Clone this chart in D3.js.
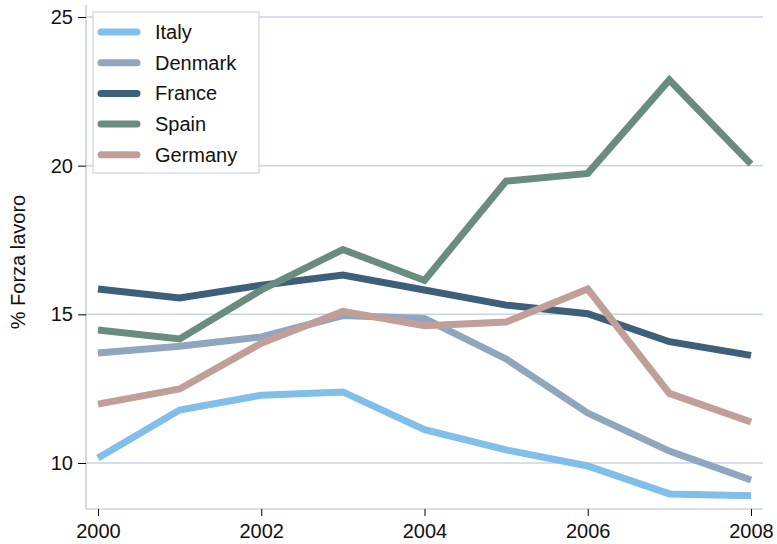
<!DOCTYPE html>
<html>
<head>
<meta charset="utf-8">
<script src="https://cdn.jsdelivr.net/npm/d3@7"></script>
<style>
  body { margin: 0; background: #fff; }
  text { font-family: "Liberation Sans", Arial, sans-serif; fill: #111; }
</style>
</head>
<body>
<div id="chart"></div>
<script>
const years = [2000, 2001, 2002, 2003, 2004, 2005, 2006, 2007, 2008];
const italy   = [10.17, 11.78, 12.28, 12.39, 11.12, 10.44, 9.9, 8.96, 8.9];
const denmark = [13.7, 13.93, 14.24, 14.96, 14.86, 13.5, 11.68, 10.4, 9.43];
const france  = [15.85, 15.55, 15.98, 16.32, 15.82, 15.31, 15.02, 14.08, 13.62];
const spain   = [14.47, 14.17, 15.82, 17.18, 16.14, 19.48, 19.74, 22.88, 20.05];
const germany = [11.98, 12.49, 14.03, 15.1, 14.62, 14.74, 15.85, 12.34, 11.38];
const yTicks = [10, 15, 20, 25];
const xTicks = [2000, 2002, 2004, 2006, 2008];

const series = [
  { name: "Italy", values: italy, color: "#80bfea" },
  { name: "Denmark", values: denmark, color: "#8fa6be" },
  { name: "France", values: france, color: "#3d5f7a" },
  { name: "Spain", values: spain, color: "#6a8c7f" },
  { name: "Germany", values: germany, color: "#c09f99" }
];

const W = 777, H = 544;
const fontSize = "20px";
const svg = d3.select("#chart").append("svg")
  .attr("width", W).attr("height", H);

const x = d3.scaleLinear().domain([2000, 2008]).range([98, 751]);
const y = d3.scaleLinear().domain([10, 25]).range([463, 17]);
const plot = { left: 86, right: 763, top: 5, bottom: 509 };

// griglia
svg.selectAll(".grid").data(yTicks).enter().append("line")
  .attr("x1", plot.left).attr("x2", plot.right)
  .attr("y1", d => y(d)).attr("y2", d => y(d))
  .attr("stroke", "#c9d5e1").attr("stroke-width", 1.5);

// assi
svg.append("line").attr("x1", plot.left).attr("x2", plot.left).attr("y1", plot.top).attr("y2", plot.bottom)
  .attr("stroke", "#b4c0cc").attr("stroke-width", 1.2);
svg.append("line").attr("x1", plot.left).attr("x2", plot.right).attr("y1", plot.bottom).attr("y2", plot.bottom)
  .attr("stroke", "#b4c0cc").attr("stroke-width", 1.2);

const yAxis = d3.axisLeft(y).tickValues(yTicks).tickSize(8).tickPadding(5).tickFormat(d3.format("d"));
const gy = svg.append("g").attr("transform", `translate(${plot.left},0)`).call(yAxis);
gy.select(".domain").remove();
gy.selectAll("line").attr("stroke", "#000");
gy.selectAll("text").style("font-size", fontSize).style("font-family", "Liberation Sans, Arial, sans-serif");

const xAxis = d3.axisBottom(x).tickValues(xTicks).tickSize(7).tickPadding(8).tickFormat(d3.format("d"));
const gx = svg.append("g").attr("transform", `translate(0,${plot.bottom})`).call(xAxis);
gx.select(".domain").remove();
gx.selectAll("line").attr("stroke", "#000");
gx.selectAll("text").style("font-size", fontSize).style("font-family", "Liberation Sans, Arial, sans-serif");

// titolo asse y
svg.append("text")
  .attr("transform", "translate(25,262) rotate(-90)")
  .attr("text-anchor", "middle")
  .style("font-size", fontSize)
  .text("% Forza lavoro");

// linee
const line = d3.line()
  .x((d, i) => x(years[i]))
  .y(d => y(d));

svg.selectAll(".serie").data(series).enter().append("path")
  .attr("d", d => line(d.values))
  .attr("fill", "none")
  .attr("stroke", d => d.color)
  .attr("stroke-width", 7)
  .attr("stroke-linejoin", "miter")
  .attr("stroke-linecap", "butt");

// legenda
const leg = svg.append("g").attr("transform", "translate(93,12)");
leg.append("rect").attr("width", 166).attr("height", 161)
  .attr("fill", "#fff").attr("stroke", "#c9d5e1").attr("stroke-width", 1.2);
const items = leg.selectAll(".item").data(series).enter().append("g")
  .attr("transform", (d, i) => `translate(0,${20 + i * 30.7})`);
items.append("line").attr("x1", 8).attr("x2", 44)
  .attr("stroke", d => d.color).attr("stroke-width", 7).attr("stroke-linecap", "round");
items.append("text").attr("x", 62).attr("dy", "0.35em")
  .style("font-size", fontSize).text(d => d.name);
</script>
</body>
</html>
